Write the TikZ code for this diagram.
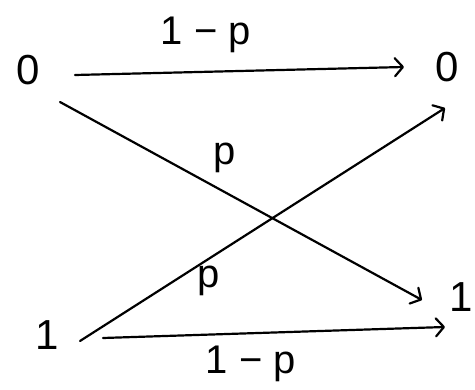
\documentclass[tikz,border=0pt]{standalone}
\usepackage{fontspec}
\setmainfont{Liberation Sans}
\usetikzlibrary{arrows.meta}
\begin{document}
\begin{tikzpicture}[x=1pt,y=-1pt,
  sym/.style={inner sep=0pt,font=\fontsize{42}{42}\selectfont},
  lab/.style={inner sep=0pt,font=\fontsize{40}{40}\selectfont},
  arr/.style={line width=2.2pt,line cap=round,-{Straight Barb[length=8pt,width=18pt,line width=2.2pt,round]}}]
\useasboundingbox (0,0) rectangle (475,390);
\node[sym] (n0L) at (28,70) {0};
\node[sym] (n0R) at (447,67) {0};
\node[sym] (n1L) at (47,335) {1};
\node[sym] (n1R) at (461,297) {1};
\draw[arr] ([shift={(47,5)}]n0L.center) -- ([shift={(-43,0)}]n0R.center);
\draw[arr] ([shift={(32,32)}]n0L.center) -- ([shift={(-39,3)}]n1R.center);
\draw[arr] ([shift={(33,6)}]n1L.center) -- ([shift={(-2,41)}]n0R.center);
\draw[arr] ([shift={(56,3)}]n1L.center) -- ([shift={(-16,30)}]n1R.center);
\node[lab] (l1) at (206,35) {1 − p};
\node[lab] (l2) at (225,158) {p};
\node[lab] (l3) at (209,281) {p};
\node[lab] (l4) at (251,364) {1 − p};
\end{tikzpicture}
\end{document}
